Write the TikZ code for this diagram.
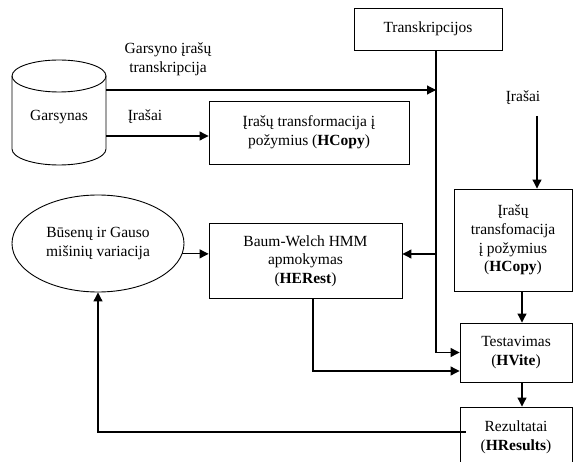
\documentclass[tikz,border=0pt]{standalone}
\usepackage{fontspec}
\setmainfont{Liberation Serif}
\usetikzlibrary{shapes.geometric,arrows.meta}
\begin{document}
\begin{tikzpicture}[x=1bp,y=-1bp,
  font=\fontsize{15.5bp}{18.7bp}\selectfont,
  box/.style={draw,line width=0.9bp,inner sep=0pt,align=center},
  lbl/.style={inner sep=0pt,align=center},
  arr/.style={line width=1.1bp,-{Triangle[length=9bp,width=9bp]}},
  conn/.style={line width=1.1bp}]
\useasboundingbox (0,0) rectangle (573,462);
\clip (0,0) rectangle (573,462);

% database cylinder
\draw[line width=0.9bp] (59,76) ellipse [x radius=47,y radius=16];
\draw[line width=0.9bp] (12,76) -- (12,149)
  arc[start angle=180,end angle=0,x radius=47,y radius=16] -- (106,76);
\node[lbl,minimum width=94bp] (garsynas) at (59,117) {Garsynas};

% boxes
\node[box,minimum width=148bp,minimum height=42bp] (trans) at (428,29) {Transkripcijos};
\node[box,minimum width=200bp,minimum height=63bp] (copy1) at (309,132.5)
  {Įrašų transformacija į\\požymius (\textbf{HCopy})};
\node[box,minimum width=118bp,minimum height=102bp] (copy2) at (513,240)
  {Įrašų\\transfomacija\\į požymius\\(\textbf{HCopy})};
\node[box,minimum width=193bp,minimum height=75bp] (baum) at (305.5,261)
  {Baum-Welch HMM\\apmokymas\\(\textbf{HERest})};
\node[box,ellipse,minimum width=172bp,minimum height=97bp] (ell) at (98,243.5)
  {Būsenų ir Gauso\\mišinių variacija};
\node[box,minimum width=112bp,minimum height=59bp] (test) at (516,352.5)
  {Testavimas\\(\textbf{HVite})};
\node[box,minimum width=112bp,minimum height=60bp] (rez) at (516,437)
  {Rezultatai\\(\textbf{HResults})};

% labels
\node[lbl] (lblTr) at (168,59) {Garsyno įrašų\\transkripcija};
\node[lbl] (lblIr1) at (145,117) {Įrašai};
\node[lbl] (lblIr2) at (523,98) {Įrašai};

% connectors
\coordinate (v) at (436,0);
\coordinate (r0) at (537,116);
\draw[arr] ([yshift=27bp]garsynas.east) coordinate (g1) -- (g1 -| v);
\draw[arr] ([yshift=-19bp]garsynas.east) coordinate (g2) -- (g2 -| copy1.west);
\draw[arr] (v |- trans.south) |- (test.west);
\draw[arr] ([yshift=7bp]baum.east) coordinate (b2) (v |- b2) -- (b2);
\draw[arr] ([yshift=7bp]baum.west) coordinate (b3) (ell.-7) coordinate (e1) (e1) -- (e1 -| b3);
\draw[arr] ([xshift=7.5bp]baum.south) |- ([yshift=-18.5bp]test.west);
\draw[arr] (r0) -- (r0 |- copy2.north);
\draw[arr] ([xshift=9bp]copy2.south) coordinate (c2) -- (c2 |- test.north);
\draw[arr] ([xshift=6bp]test.south) coordinate (c3) -- (c3 |- rez.north);
\draw[arr] ([xshift=6bp,yshift=5bp]rez.west) -| (ell.south);
\end{tikzpicture}
\end{document}
